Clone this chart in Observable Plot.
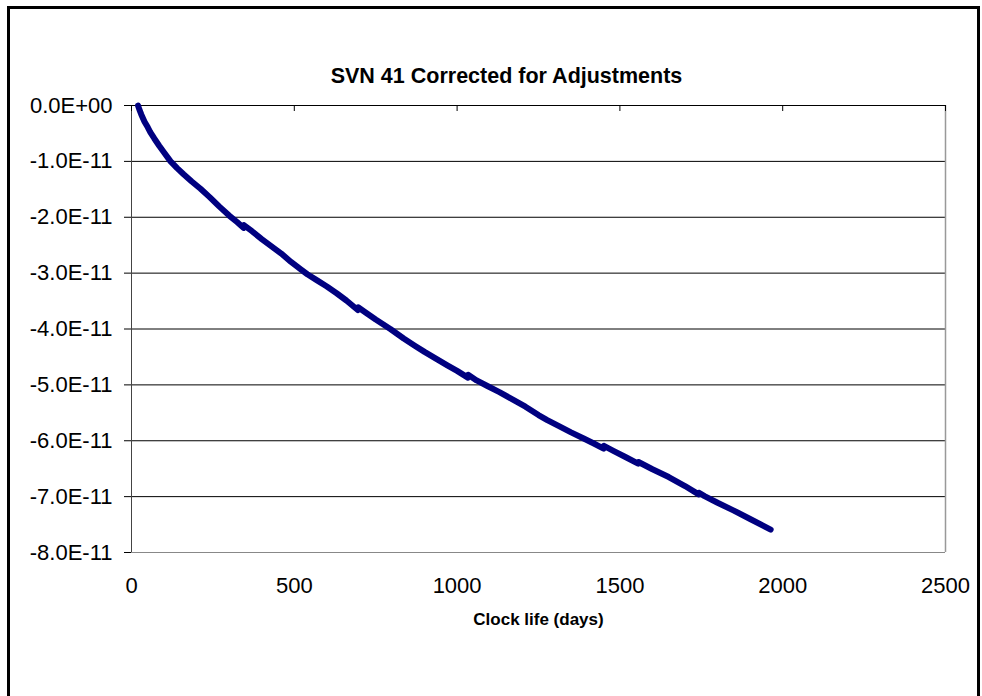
<!DOCTYPE html>
<html>
<head>
<meta charset="utf-8">
<script src="https://cdn.jsdelivr.net/npm/d3@7"></script>
<script src="https://cdn.jsdelivr.net/npm/@observablehq/plot@0.6"></script>
<style>
  html, body { margin: 0; padding: 0; background: #fff; }
  #wrap { position: relative; width: 982px; height: 696px; overflow: hidden; }
  #border { position: absolute; left: 7px; top: 6px; width: 973px; height: 760px; border: 3px solid #000; box-sizing: border-box; pointer-events: none; }
  #chart { position: absolute; left: 0; top: 0; }
</style>
</head>
<body>
<div id="wrap"><div id="chart"></div><div id="border"></div></div>
<script>
const titleText = "SVN 41 Corrected for Adjustments";
const xLabelText = "Clock life (days)";
const xTicks = [0, 500, 1000, 1500, 2000, 2500];
const yTicksE11 = [0, -1, -2, -3, -4, -5, -6, -7, -8];
const unit = 1e-11;

// Clock life (days)
const days = [20, 24, 30, 40, 50, 58, 70, 85, 100, 120, 140, 160, 185, 212, 240, 270, 300, 325, 344, 345,
  370, 400, 430, 460, 490, 519, 540, 570, 600, 630, 660, 695, 696, 720, 750, 795, 836, 870, 900, 935,
  970, 1000, 1033, 1034, 1060, 1093, 1130, 1170, 1210, 1250, 1277, 1310, 1350, 1389, 1420, 1450, 1451,
  1480, 1520, 1556, 1557, 1600, 1650, 1700, 1742, 1743, 1760, 1800, 1850, 1900, 1963];
// Corrected frequency offset, in units of 1E-11
const offsetE11 = [0.00, -0.07, -0.16, -0.29, -0.39, -0.48, -0.59, -0.72, -0.84, -1.00, -1.12, -1.23, -1.36, -1.49, -1.64, -1.81, -1.97, -2.09, -2.19, -2.14,
  -2.25, -2.39, -2.52, -2.65, -2.80, -2.93, -3.02, -3.13, -3.24, -3.36, -3.49, -3.66, -3.61, -3.71, -3.83, -4.00, -4.17, -4.30, -4.41, -4.53,
  -4.65, -4.75, -4.87, -4.82, -4.92, -5.02, -5.13, -5.26, -5.39, -5.54, -5.63, -5.73, -5.85, -5.96, -6.05, -6.14, -6.09,
  -6.18, -6.30, -6.41, -6.38, -6.51, -6.65, -6.81, -6.96, -6.93, -6.99, -7.11, -7.25, -7.40, -7.59];

const data = days.map((d, i) => ({days: d, value: offsetE11[i] * unit}));
const yTicks = yTicksE11.map(v => v * unit);
const fmtY = v => {
  let s = (Math.abs(v) < 1e-20 ? 0 : v).toExponential(1).toUpperCase();
  return s.replace(/E([+-])(\d)$/, "E$10$2");
};

const W = 982, H = 696, mT = 105, mB = 144, mL = 131, mR = 37;
const frameH = H - mT - mB;
const topTick = 6;

const chart = Plot.plot({
  width: W,
  height: H,
  marginLeft: mL,
  marginRight: mR,
  marginTop: mT,
  marginBottom: mB,
  style: {fontFamily: "'Liberation Sans', Arial, sans-serif", fontSize: "22px", background: "transparent", color: "#000"},
  x: {domain: [0, 2500]},
  y: {domain: [-8 * unit, 0]},
  marks: [
    Plot.ruleY(yTicks.slice(1, -1), {stroke: "#000", strokeWidth: 1}),
    Plot.ruleY([yTicks[yTicks.length - 1]], {stroke: "#888", strokeWidth: 1}),
    Plot.ruleX([xTicks[xTicks.length - 1]], {stroke: "#999", strokeWidth: 1.5}),
    Plot.ruleX([0], {stroke: "#444", strokeWidth: 1}),
    Plot.ruleY([0], {stroke: "#000", strokeWidth: 1}),
    Plot.tickX(xTicks, {x: d => d, stroke: "#000", strokeWidth: 1, insetBottom: frameH - topTick}),
    Plot.axisY({ticks: yTicks, tickSize: 7, tickPadding: 12, tickFormat: fmtY, label: null, fontSize: 22}),
    Plot.axisX({anchor: "bottom", ticks: xTicks, tickSize: 0, tickPadding: 25, tickFormat: d => String(d), label: null, fontSize: 22}),
    Plot.line(data, {x: "days", y: "value", stroke: "#000080", strokeWidth: 6, strokeLinecap: "round", strokeLinejoin: "round"}),
    Plot.text([titleText], {frameAnchor: "top", lineAnchor: "middle", dy: -29, dx: -32, fontSize: 21.5, fontWeight: "bold"}),
    Plot.text([xLabelText], {frameAnchor: "bottom", lineAnchor: "middle", dy: 67, fontSize: 17, fontWeight: "bold"})
  ]
});
document.getElementById("chart").appendChild(chart);
</script>
</body>
</html>
